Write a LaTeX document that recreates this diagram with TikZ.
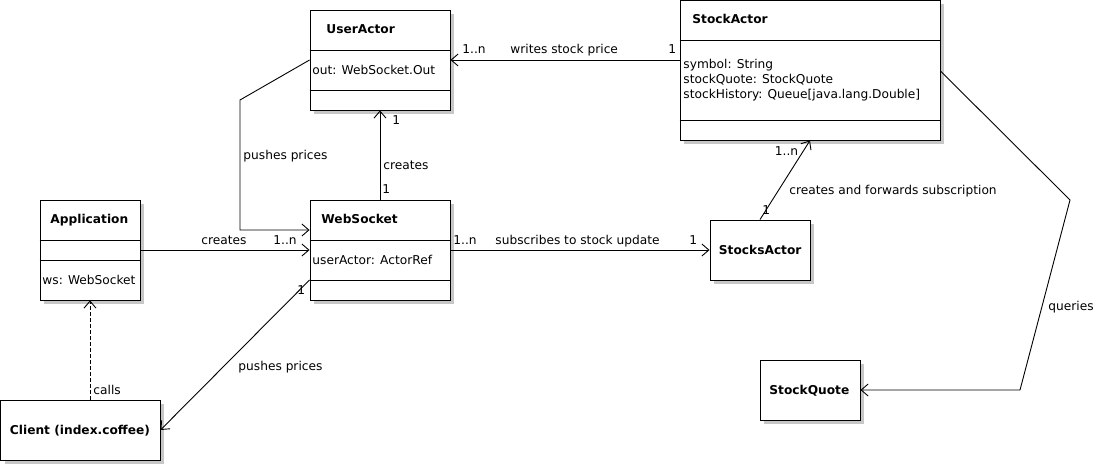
\documentclass[tikz,border=0pt]{standalone}
\usepackage{fontspec}
\setmainfont{DejaVu Sans}
\usetikzlibrary{arrows.meta, shadows}

\newcommand{\dfont}{\fontsize{12.2}{15}\selectfont}

\begin{document}
\begin{tikzpicture}[x=1pt, y=-1pt, line width=0.9pt,
  umlbox/.style={draw, fill=white, rectangle, inner sep=0pt,
    drop shadow={shadow xshift=4pt, shadow yshift=-4pt, fill=black!22, opacity=1}},
  clsname/.style={anchor=west, inner sep=0pt, font=\dfont\bfseries, text height=9pt, text depth=0pt},
  attr/.style={anchor=west, inner sep=0pt, font=\dfont, text height=9pt, text depth=0pt},
  lbl/.style={anchor=west, inner sep=0pt, font=\dfont, text height=9pt, text depth=0pt},
  assoc/.style={-{Straight Barb[length=7pt, width=12pt]}},
  calls/.style={dashed, dash pattern=on 4pt off 2pt, -{Straight Barb[length=7pt, width=12pt]}}]
\useasboundingbox (0,0) rectangle (1100,465);

% classes
\node[umlbox, minimum width=140pt, minimum height=100pt] (useract) at (380,60) {};
\draw (useract.west |- 0,50) -- (useract.east |- 0,50);
\draw (useract.west |- 0,90) -- (useract.east |- 0,90);
\node[clsname] (useract-n) at (326,29) {UserActor};
\node[attr] (useract-a) at (312,70) {out: WebSocket.Out};

\node[umlbox, minimum width=260pt, minimum height=139.5pt] (stockact) at (810,70.25) {};
\draw (stockact.west |- 0,40) -- (stockact.east |- 0,40);
\draw (stockact.west |- 0,120) -- (stockact.east |- 0,120);
\node[clsname] (stockact-n) at (692,19.5) {StockActor};
\node[attr] (stockact-a1) at (683,64) {symbol: String};
\node[attr] (stockact-a2) at (683,79) {stockQuote: StockQuote};
\node[attr] (stockact-a3) at (683,94) {stockHistory: Queue[java.lang.Double]};

\node[umlbox, minimum width=100pt, minimum height=100pt] (app) at (90,250) {};
\draw (app.west |- 0,240) -- (app.east |- 0,240);
\draw (app.west |- 0,260) -- (app.east |- 0,260);
\node[clsname] (app-n) at (50,219) {Application};
\node[attr] (app-a) at (42,279.5) {ws: WebSocket};

\node[umlbox, minimum width=140pt, minimum height=100pt] (websock) at (380,250) {};
\draw (websock.west |- 0,240) -- (websock.east |- 0,240);
\draw (websock.west |- 0,280) -- (websock.east |- 0,280);
\node[clsname] (websock-n) at (321,219.5) {WebSocket};
\node[attr] (websock-a) at (312,260) {userActor: ActorRef};

\node[umlbox, minimum width=100pt, minimum height=60pt] (stocksact) at (760,250) {};
\node[clsname] (stocksact-n) at (718.5,250) {StocksActor};

\node[umlbox, minimum width=100pt, minimum height=60pt] (stockquote) at (810,390) {};
\node[clsname] (stockquote-n) at (769,389.5) {StockQuote};

\node[umlbox, minimum width=159.5pt, minimum height=60pt] (client) at (80.25,430) {};
\node[clsname] (client-n) at (9.5,429.5) {Client (index.coffee)};

% bends
\coordinate (pushA) at (240,100);
\coordinate (pushB) at (240,230);
\coordinate (queryA) at (1070,200);
\coordinate (queryB) at (1020,390);

% connectors
\draw[assoc] (stockact.west |- 0,60) -- (useract.east |- 0,60);
\node[lbl] (l1) at (462,49.5) {1..n};
\node[lbl] (l2) at (510,49.5) {writes stock price};
\node[lbl] (l3) at (668,49.5) {1};

\draw[assoc] (useract.west |- 0,60) -- (pushA) -- (pushB) -- (websock.west |- pushB);
\node[lbl] (l4) at (243,155) {pushes prices};

\draw[assoc] (websock.north) -- (useract.south);
\node[lbl] (l5) at (392,120.5) {1};
\node[lbl] (l6) at (383,165.5) {creates};
\node[lbl] (l7) at (382,189.5) {1};

\draw[assoc] (app.east) -- (websock.west);
\node[lbl] (l8) at (201,240) {creates};
\node[lbl] (l9) at (273,240) {1..n};

\draw[assoc] (websock.east) -- (stocksact.west);
\node[lbl] (l10) at (453,240) {1..n};
\node[lbl] (l11) at (495,240) {subscribes to stock update};
\node[lbl] (l12) at (689,240) {1};

\draw[assoc] (stocksact.north) -- (stockact.south);
\node[lbl] (l13) at (762,210) {1};
\node[lbl] (l14) at (774.5,151) {1..n};
\node[lbl] (l15) at (789,190.5) {creates and forwards subscription};

\draw[assoc] (stockact.east |- 0,71) -- (queryA) -- (queryB) -- (stockquote.east);
\node[lbl] (l16) at (1048,306) {queries};

\draw[calls] (client.north -| app.south) -- (app.south);
\node[lbl] (l17) at (93,389.5) {calls};

\draw[assoc] (websock.west |- 0,280) -- (client.east);
\node[lbl] (l18) at (297,290) {1};
\node[lbl] (l19) at (238,366) {pushes prices};
\end{tikzpicture}
\end{document}
